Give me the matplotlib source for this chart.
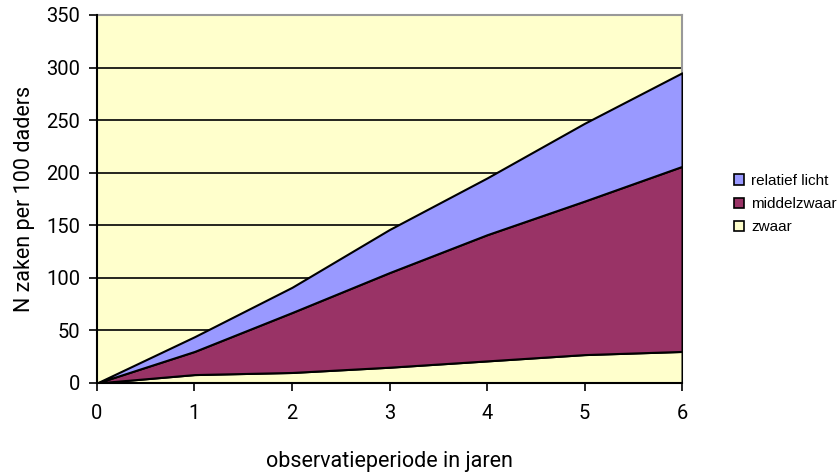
import matplotlib
matplotlib.use("Agg")
import matplotlib.pyplot as plt
from matplotlib.patches import Patch

years = [0, 1, 2, 3, 4, 5, 6]
zwaar = [0, 8, 10, 15, 21, 27, 30]
middelzwaar = [0, 22, 57, 90, 120, 146, 176]
relatief_licht = [0, 14, 24, 41, 54, 74, 89]
labels = ["zwaar", "middelzwaar", "relatief licht"]
colors = ["#FFFFCC", "#993366", "#9999FF"]

fig = plt.figure(figsize=(8.39, 4.73), dpi=100)
ax = fig.add_axes([0.1156, 0.1903, 0.8129 - 0.1156, 0.9683 - 0.1903])
ax.set_facecolor("#FFFFCC")

ax.stackplot(years, zwaar, middelzwaar, relatief_licht, colors=colors,
             edgecolor="black", linewidth=1.5, zorder=3)

ax.set_xlim(0, 6)
ax.set_ylim(0, 350)
ax.set_xticks(years)
ax.set_yticks(range(0, 351, 50))
ax.yaxis.grid(True, color="black", linewidth=1.2, zorder=1)
ax.set_axisbelow(True)

for s in ["top", "right"]:
    ax.spines[s].set_color("#999999")
    ax.spines[s].set_linewidth(1.5)
for s in ["left", "bottom"]:
    ax.spines[s].set_color("black")
    ax.spines[s].set_linewidth(1.5)
    ax.spines[s].set_zorder(5)

ax.tick_params(direction="out", length=6, width=1.2, labelsize=14.5)
ax.tick_params(axis="y", pad=6)
ax.tick_params(axis="x", pad=9)
for lab in ax.get_xticklabels() + ax.get_yticklabels():
    lab.set_family("Roboto")

ax.set_xlabel("observatieperiode in jaren", fontsize=15.5, family="Roboto", labelpad=20)
ax.set_ylabel("N zaken per 100 daders", fontsize=15.5, family="Roboto", labelpad=8)

handles = [Patch(facecolor=colors[i], edgecolor="black", linewidth=1.2, label=labels[i])
           for i in [2, 1, 0]]
leg = fig.legend(handles=handles, loc="upper left", bbox_to_anchor=(0.862, 0.655),
                 frameon=False, prop={"family": "Liberation Sans", "size": 11},
                 handlelength=0.65, handleheight=0.65, handletextpad=0.5, labelspacing=0.6,
                 borderpad=0.2)

fig.savefig("out.png", dpi=100)
